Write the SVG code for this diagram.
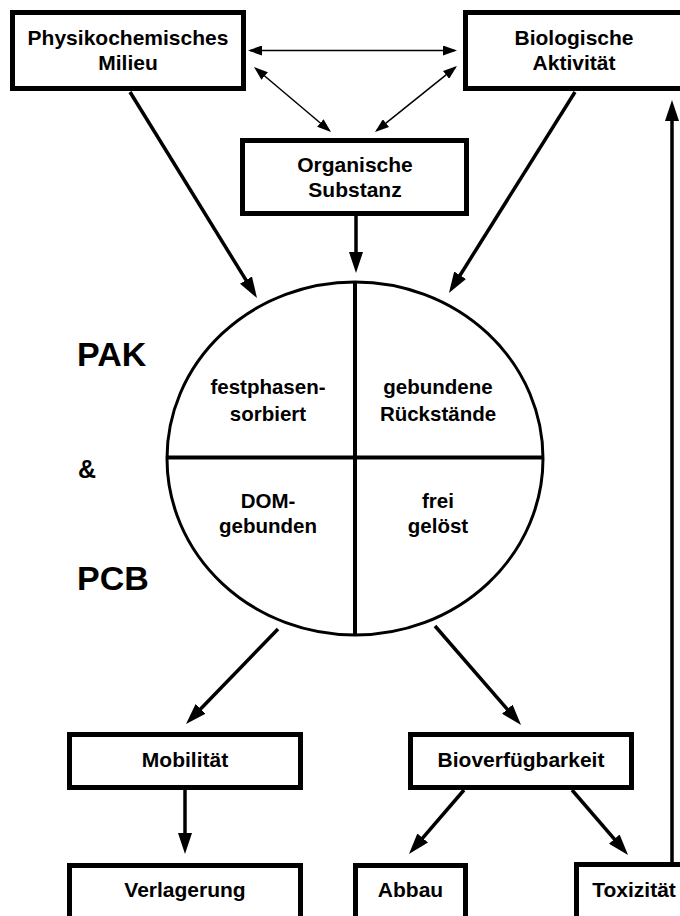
<svg xmlns="http://www.w3.org/2000/svg" width="680" height="916" viewBox="0 0 680 916">
<style>
.box{fill:#fff;stroke:#000;stroke-width:5}
.t{font-family:"Liberation Sans",Arial,Helvetica,sans-serif;font-weight:bold;font-size:21px;fill:#000;text-anchor:middle}
.q{font-family:"Liberation Sans",Arial,Helvetica,sans-serif;font-weight:bold;font-size:20.5px;fill:#000;text-anchor:middle}
.big{font-family:"Liberation Sans",Arial,Helvetica,sans-serif;font-weight:bold;font-size:34px;fill:#000}
.thick{stroke:#000;stroke-width:3.5;fill:none;marker-end:url(#ah)}
.thin{stroke:#000;stroke-width:1.5;fill:none;marker-start:url(#sh);marker-end:url(#sh)}
</style>
<defs>
<marker id="ah" markerUnits="userSpaceOnUse" markerWidth="21" markerHeight="14" refX="13" refY="7" orient="auto">
<path d="M0,0 L21,7 L0,14 Z" fill="#000"/>
</marker>
<marker id="sh" markerUnits="userSpaceOnUse" markerWidth="14" markerHeight="10" refX="12" refY="5" orient="auto-start-reverse">
<path d="M0,0 L14,5 L0,10 Z" fill="#000"/>
</marker>
</defs>
<rect width="680" height="916" fill="#fff"/>

<g id="connectors">
<line class="thin" x1="250" y1="50.5" x2="455" y2="50.5"/>
<line class="thin" x1="255.5" y1="68.3" x2="329.5" y2="130.7"/>
<line class="thin" x1="455.4" y1="67.3" x2="376.6" y2="130.7"/>
<line class="thick" x1="130" y1="92" x2="252.8" y2="291.2"/>
<line class="thick" x1="356" y1="216" x2="356" y2="265"/>
<line class="thick" x1="575" y1="92" x2="453.2" y2="286.2"/>
<line class="thick" x1="278" y1="629" x2="191.6" y2="718.2"/>
<line class="thick" x1="435" y1="626" x2="515.8" y2="719"/>
<line class="thick" x1="185" y1="790" x2="185" y2="846"/>
<line class="thick" x1="464" y1="790" x2="414.2" y2="847.9"/>
<line class="thick" x1="572" y1="790" x2="622.8" y2="848.9"/>
<line class="thick" x1="672" y1="864" x2="672" y2="108"/>
</g>

<g id="phys">
<rect class="box" x="12.5" y="12.5" width="231" height="76"/>
<text class="t" x="128" y="45">Physikochemisches</text>
<text class="t" x="128" y="70">Milieu</text>
</g>
<g id="bio">
<rect class="box" x="465.5" y="12.5" width="217" height="76"/>
<text class="t" x="574" y="45">Biologische</text>
<text class="t" x="574" y="70">Aktivität</text>
</g>
<g id="org">
<rect class="box" x="242.5" y="140.5" width="224" height="73"/>
<text class="t" x="355" y="172">Organische</text>
<text class="t" x="355" y="197">Substanz</text>
</g>

<g id="circle">
<ellipse cx="355" cy="458.5" rx="188" ry="176.5" fill="#fff" stroke="#000" stroke-width="3"/>
<line x1="355" y1="282" x2="355" y2="635" stroke="#000" stroke-width="4"/>
<line x1="167" y1="457.5" x2="543" y2="457.5" stroke="#000" stroke-width="4"/>
<text class="q" x="268" y="394">festphasen-</text>
<text class="q" x="268" y="421">sorbiert</text>
<text class="q" x="438" y="394">gebundene</text>
<text class="q" x="438" y="421">Rückstände</text>
<text class="q" x="268" y="508">DOM-</text>
<text class="q" x="268" y="533">gebunden</text>
<text class="q" x="438" y="508">frei</text>
<text class="q" x="438" y="533">gelöst</text>
</g>

<g id="labels">
<text class="big" x="77" y="366">PAK</text>
<text class="big" x="78" y="478" style="font-size:25px">&amp;</text>
<text class="big" x="77" y="590">PCB</text>
</g>

<g id="mob">
<rect class="box" x="69.5" y="734.5" width="231" height="53"/>
<text class="t" x="185" y="767">Mobilität</text>
</g>
<g id="biov">
<rect class="box" x="410.5" y="734.5" width="221" height="53"/>
<text class="t" x="521" y="767">Bioverfügbarkeit</text>
</g>
<g id="verl">
<rect class="box" x="69.5" y="865.5" width="231" height="60"/>
<text class="t" x="185" y="897">Verlagerung</text>
</g>
<g id="abbau">
<rect class="box" x="355.5" y="865.5" width="110" height="60"/>
<text class="t" x="410.5" y="897">Abbau</text>
</g>
<g id="tox">
<rect class="box" x="576.5" y="864.5" width="115" height="60"/>
<text class="t" x="634" y="897">Toxizität</text>
</g>
</svg>
